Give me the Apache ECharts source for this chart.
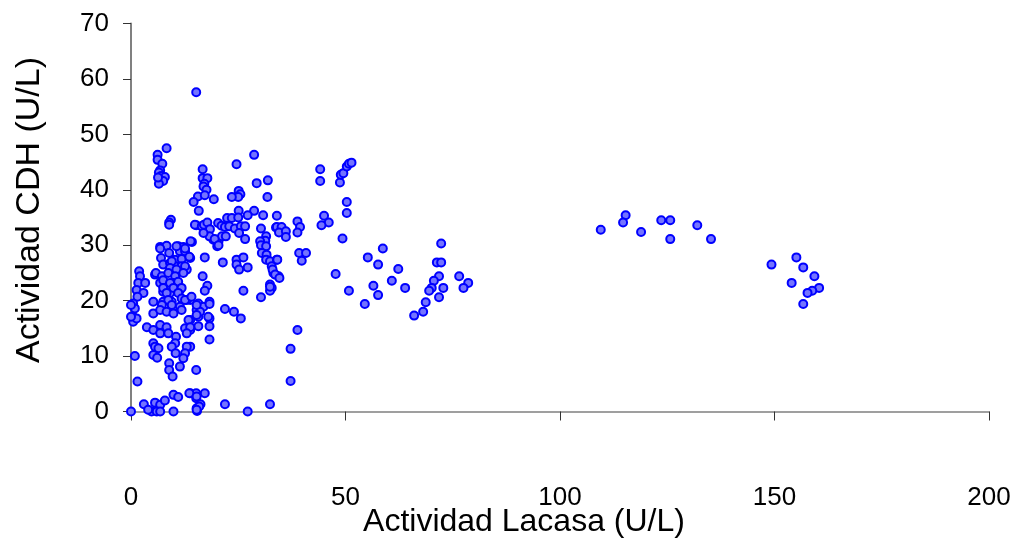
<!DOCTYPE html>
<html>
<head>
<meta charset="utf-8">
<script src="https://cdn.jsdelivr.net/npm/echarts@6/dist/echarts.min.js"></script>
<style>html,body{margin:0;padding:0;background:#fff}#c{width:1021px;height:539px}</style>
</head>
<body>
<div id="c"></div>
<script>
// [Actividad Lacasa (U/L), Actividad CDH (U/L)]
const groupUpperLeft = [[15.2,57.6],[8.3,47.5],[6.2,46.3],[6.2,45.4],[7.3,44.7],[6.8,43.5],[6.5,43.1],[7.0,42.5],[7.9,42.3],[6.8,41.8],[7.5,41.6],[6.5,41.1],[6.3,42.2],
  [15.6,38.8],[14.6,37.8],[15.8,36.2],[9.3,34.6],[8.9,34.1],[15.2,33.6],[8.9,33.7],[14.9,33.7],[16.5,33.4],[18.0,32.8],[19.2,31.0],[20.4,30.7],[20.1,29.8],
  [16.7,43.7],[16.7,42.1],[17.8,42.1],[17.1,41.1],[16.9,40.6],[17.6,40.0],[17.2,39.0],[19.3,38.3]];
const groupMid20 = [[28.7,46.3],[24.6,44.6],[29.3,41.2],[31.9,41.7],[31.8,38.7],[25.1,39.8],[25.5,39.2],[25.0,38.7],[23.5,38.7],
  [25.1,36.2],[28.7,36.2],[27.2,35.4],[30.8,35.4],[34.0,35.3],[22.4,34.9],[23.5,34.9],[25.0,35.0],
  [17.0,33.7],[17.8,34.1],[20.3,34.0],[21.1,33.5],[21.9,33.3],[22.9,33.4],[24.2,33.0],[25.6,33.4],[26.6,33.4],[30.3,33.0],[33.8,33.2],[18.4,32.9],[18.3,31.6],[16.9,32.2],[21.2,31.6],[22.1,31.6],[25.2,32.2],[26.6,31.1],[31.5,31.6],[31.3,30.8],[30.1,30.7],[19.5,31.1],[20.4,30.0],[14.2,30.6],[30.3,30.0],[31.5,29.8],
  [17.2,27.8],[13.8,27.7],[21.4,26.9],[24.6,27.4],[26.2,27.8],[24.6,26.5],[25.2,25.6],[27.2,26.0],
  [30.5,28.6],[31.6,28.3],[31.5,27.4],[32.4,27.1],[34.0,27.4],[32.8,26.2],[33.2,25.0],[34.4,24.4],
  [16.7,24.4],[17.8,22.7],[17.2,21.8],[26.2,21.8],[32.4,22.9],[32.8,22.3],[32.4,21.8],[30.3,20.6],
  [13.8,20.1],[15.7,19.5],[18.3,19.8],[16.9,18.9],[15.3,18.3],[18.3,19.4],[15.7,17.1],[18.3,16.8],[13.8,16.5],[16.1,18.0],[18.0,17.1],[15.3,17.4],
  [21.9,18.5],[24.0,18.0],[25.6,16.8],[15.7,15.4],[18.3,15.4],[13.8,14.7],[18.3,13.0],[13.8,11.7],[15.2,7.5],
  [13.8,3.3],[15.2,3.3],[17.2,3.3],[15.2,2.4],[16.2,1.3],[15.3,0.6],[15.4,0.1],[15.9,0.9],[21.9,1.3],[27.2,0],[32.4,1.3]];
const groupMid40 = [[44.1,43.7],[44.1,41.6],[48.7,41.3],[48.9,42.7],[49.5,43.0],[50.3,44.2],[50.8,44.7],[51.4,44.9],[50.3,37.8],[50.3,35.8],
  [34.0,33.3],[35.1,33.3],[34.5,32.3],[36.1,32.5],[36.1,31.5],[38.8,34.3],[39.4,33.3],[38.8,32.3],[45.0,35.3],[46.1,34.1],[44.4,33.6],
  [39.2,28.6],[40.8,28.6],[39.8,27.2],[49.3,31.2],[55.2,27.8],[34.1,27.4],[33.0,25.6],[33.6,24.7],[34.6,24.1],[32.4,22.5],[47.7,24.8],[50.8,21.8],[54.5,19.4],[38.8,14.7],[37.2,11.3],[37.2,5.5]];
const groupMid70 = [[72.3,30.3],[58.7,29.4],[57.6,26.5],[62.3,25.7],[71.3,26.9],[72.3,26.9],[60.8,23.6],[63.9,22.3],[56.5,22.7],[57.6,21.0],[71.8,24.4],[70.6,23.6],[72.8,22.3],[70.1,22.3],[69.5,21.8],[71.8,20.6],[68.7,19.7],[68.1,18.0],[66.0,17.3],[76.5,24.4],[78.6,23.2],[77.5,22.3]];
const groupFar120 = [[109.5,32.8],[115.3,35.4],[114.7,34.1],[118.9,32.4],[123.6,34.5],[125.7,34.5],[125.7,31.1],[132.0,33.6],[135.2,31.1]];
const groupFar155 = [[149.3,26.5],[155.1,27.8],[156.7,26.0],[154.0,23.2],[159.3,24.4],[160.4,22.3],[158.8,21.8],[157.7,21.4],[156.7,19.4]];
const groupLow = [[6.8,29.7],[8.3,29.9],[11.0,29.8],[12.2,29.7],[13.9,30.7],[11.4,28.9],[12.6,28.9],[8.9,28.6],[7.0,27.7],[10.3,27.4],[11.8,27.5],[13.6,27.9],[6.8,29.4],[10.6,29.8],[12.6,29.4],
  [7.5,26.5],[9.1,26.8],[10.3,26.2],[11.8,26.2],[13.0,25.6],[9.5,27.1],[9.1,25.9],[10.6,25.6],[12.6,26.2],[5.6,24.7],
  [5.8,25.0],[7.2,24.4],[8.7,25.0],[10.3,24.4],[12.2,25.0],
  [1.9,25.3],[2.1,24.4],[1.7,23.2],[3.3,23.2],[1.3,21.9],[2.9,21.4],[1.5,20.7],
  [6.8,23.2],[8.3,22.5],[9.9,23.2],[11.4,21.9],[7.5,21.6],[9.1,21.4],[7.5,23.7],[9.1,23.2],[11.0,23.4],[7.5,22.3],[9.9,22.3],[11.8,22.3],[8.3,21.4],[11.0,21.4],
  [5.2,19.8],[7.5,19.8],[9.5,19.8],[11.8,20.4],[13.0,20.1],[15.3,19.2],[12.6,20.1],[14.1,20.7],[8.7,20.1],[7.2,19.2],[9.5,19.2],[11.4,18.9],
  [0.5,19.5],[0.9,18.6],[0.5,17.1],[0.5,16.2],[1.3,16.8],[0,19.2],[0,17.1],
  [5.2,17.7],[6.8,18.3],[8.3,18.0],[9.9,17.7],[11.8,18.3],[13.4,16.5],
  [3.7,15.2],[5.2,14.7],[6.8,15.6],[8.3,15.2],[6.8,14.1],[8.7,14.1],[12.6,15.0],[13.8,15.2],[13.0,14.1],
  [5.2,12.3],[5.6,11.7],[6.4,11.4],[10.5,13.5],[10.3,12.3],[9.5,11.7],[13.0,11.7],[12.6,10.5],[12.2,9.6],[10.4,10.5],
  [5.2,10.2],[6.1,9.7],[0.9,10.0],[8.9,8.7],[8.9,7.5],[9.7,6.3],[11.4,8.1],[1.5,5.4],
  [3.0,1.3],[5.6,1.6],[6.8,1.2],[7.9,2.0],[9.9,3.0],[11.0,2.6],[13.6,3.3],[15.3,2.7],[9.9,0],[15.3,0.3],[0,0],[4.8,0],[6.0,0],[6.8,0],[4.0,0.3]];

const xTicks = [0, 50, 100, 150, 200];
const yTicks = [0, 10, 20, 30, 40, 50, 60, 70];

const allPoints = [].concat(groupUpperLeft, groupMid20, groupMid40, groupMid70, groupFar120, groupFar155, groupLow);

const chart = echarts.init(document.getElementById('c'), null, {renderer: 'canvas'});
const axisColor = '#808080';
const font = 'Liberation Sans, Arial, sans-serif';
chart.setOption({
  animation: false,
  backgroundColor: '#fff',
  grid: {left: 131, right: 32, top: 23.5, bottom: 127.5, containLabel: false, outerBoundsMode: 'none'},
  xAxis: {
    type: 'value', min: xTicks[0], max: xTicks[xTicks.length - 1], interval: 50,
    name: 'Actividad Lacasa (U/L)', nameLocation: 'middle', nameGap: 95, nameMoveOverlap: false,
    nameTextStyle: {fontFamily: font, fontSize: 32, color: '#000', padding: [0, 72, 0, 0]},
    axisLine: {show: true, lineStyle: {color: axisColor, width: 1.5}},
    axisTick: {show: true, inside: false, length: 9, lineStyle: {color: '#333', width: 1}},
    axisLabel: {fontFamily: font, fontSize: 26, color: '#000', margin: 73},
    splitLine: {show: false}
  },
  yAxis: {
    type: 'value', min: yTicks[0], max: yTicks[yTicks.length - 1], interval: 10,
    name: 'Actividad CDH (U/L)', nameLocation: 'middle', nameGap: 84, nameMoveOverlap: false,
    nameTextStyle: {fontFamily: font, fontSize: 34, color: '#000', padding: [0, 0, 0, 15]},
    axisLine: {show: true, lineStyle: {color: axisColor, width: 2}},
    axisTick: {show: true, inside: false, length: 8, lineStyle: {color: '#333', width: 1}},
    axisLabel: {fontFamily: font, fontSize: 26, color: '#000', margin: 22},
    splitLine: {show: false}
  },
  series: [{
    type: 'scatter',
    clip: false,
    symbol: 'circle',
    symbolSize: 8,
    data: allPoints,
    itemStyle: {color: '#7474ff', borderColor: '#0000ff', borderWidth: 2, opacity: 1}
  }]
});
</script>
</body>
</html>
